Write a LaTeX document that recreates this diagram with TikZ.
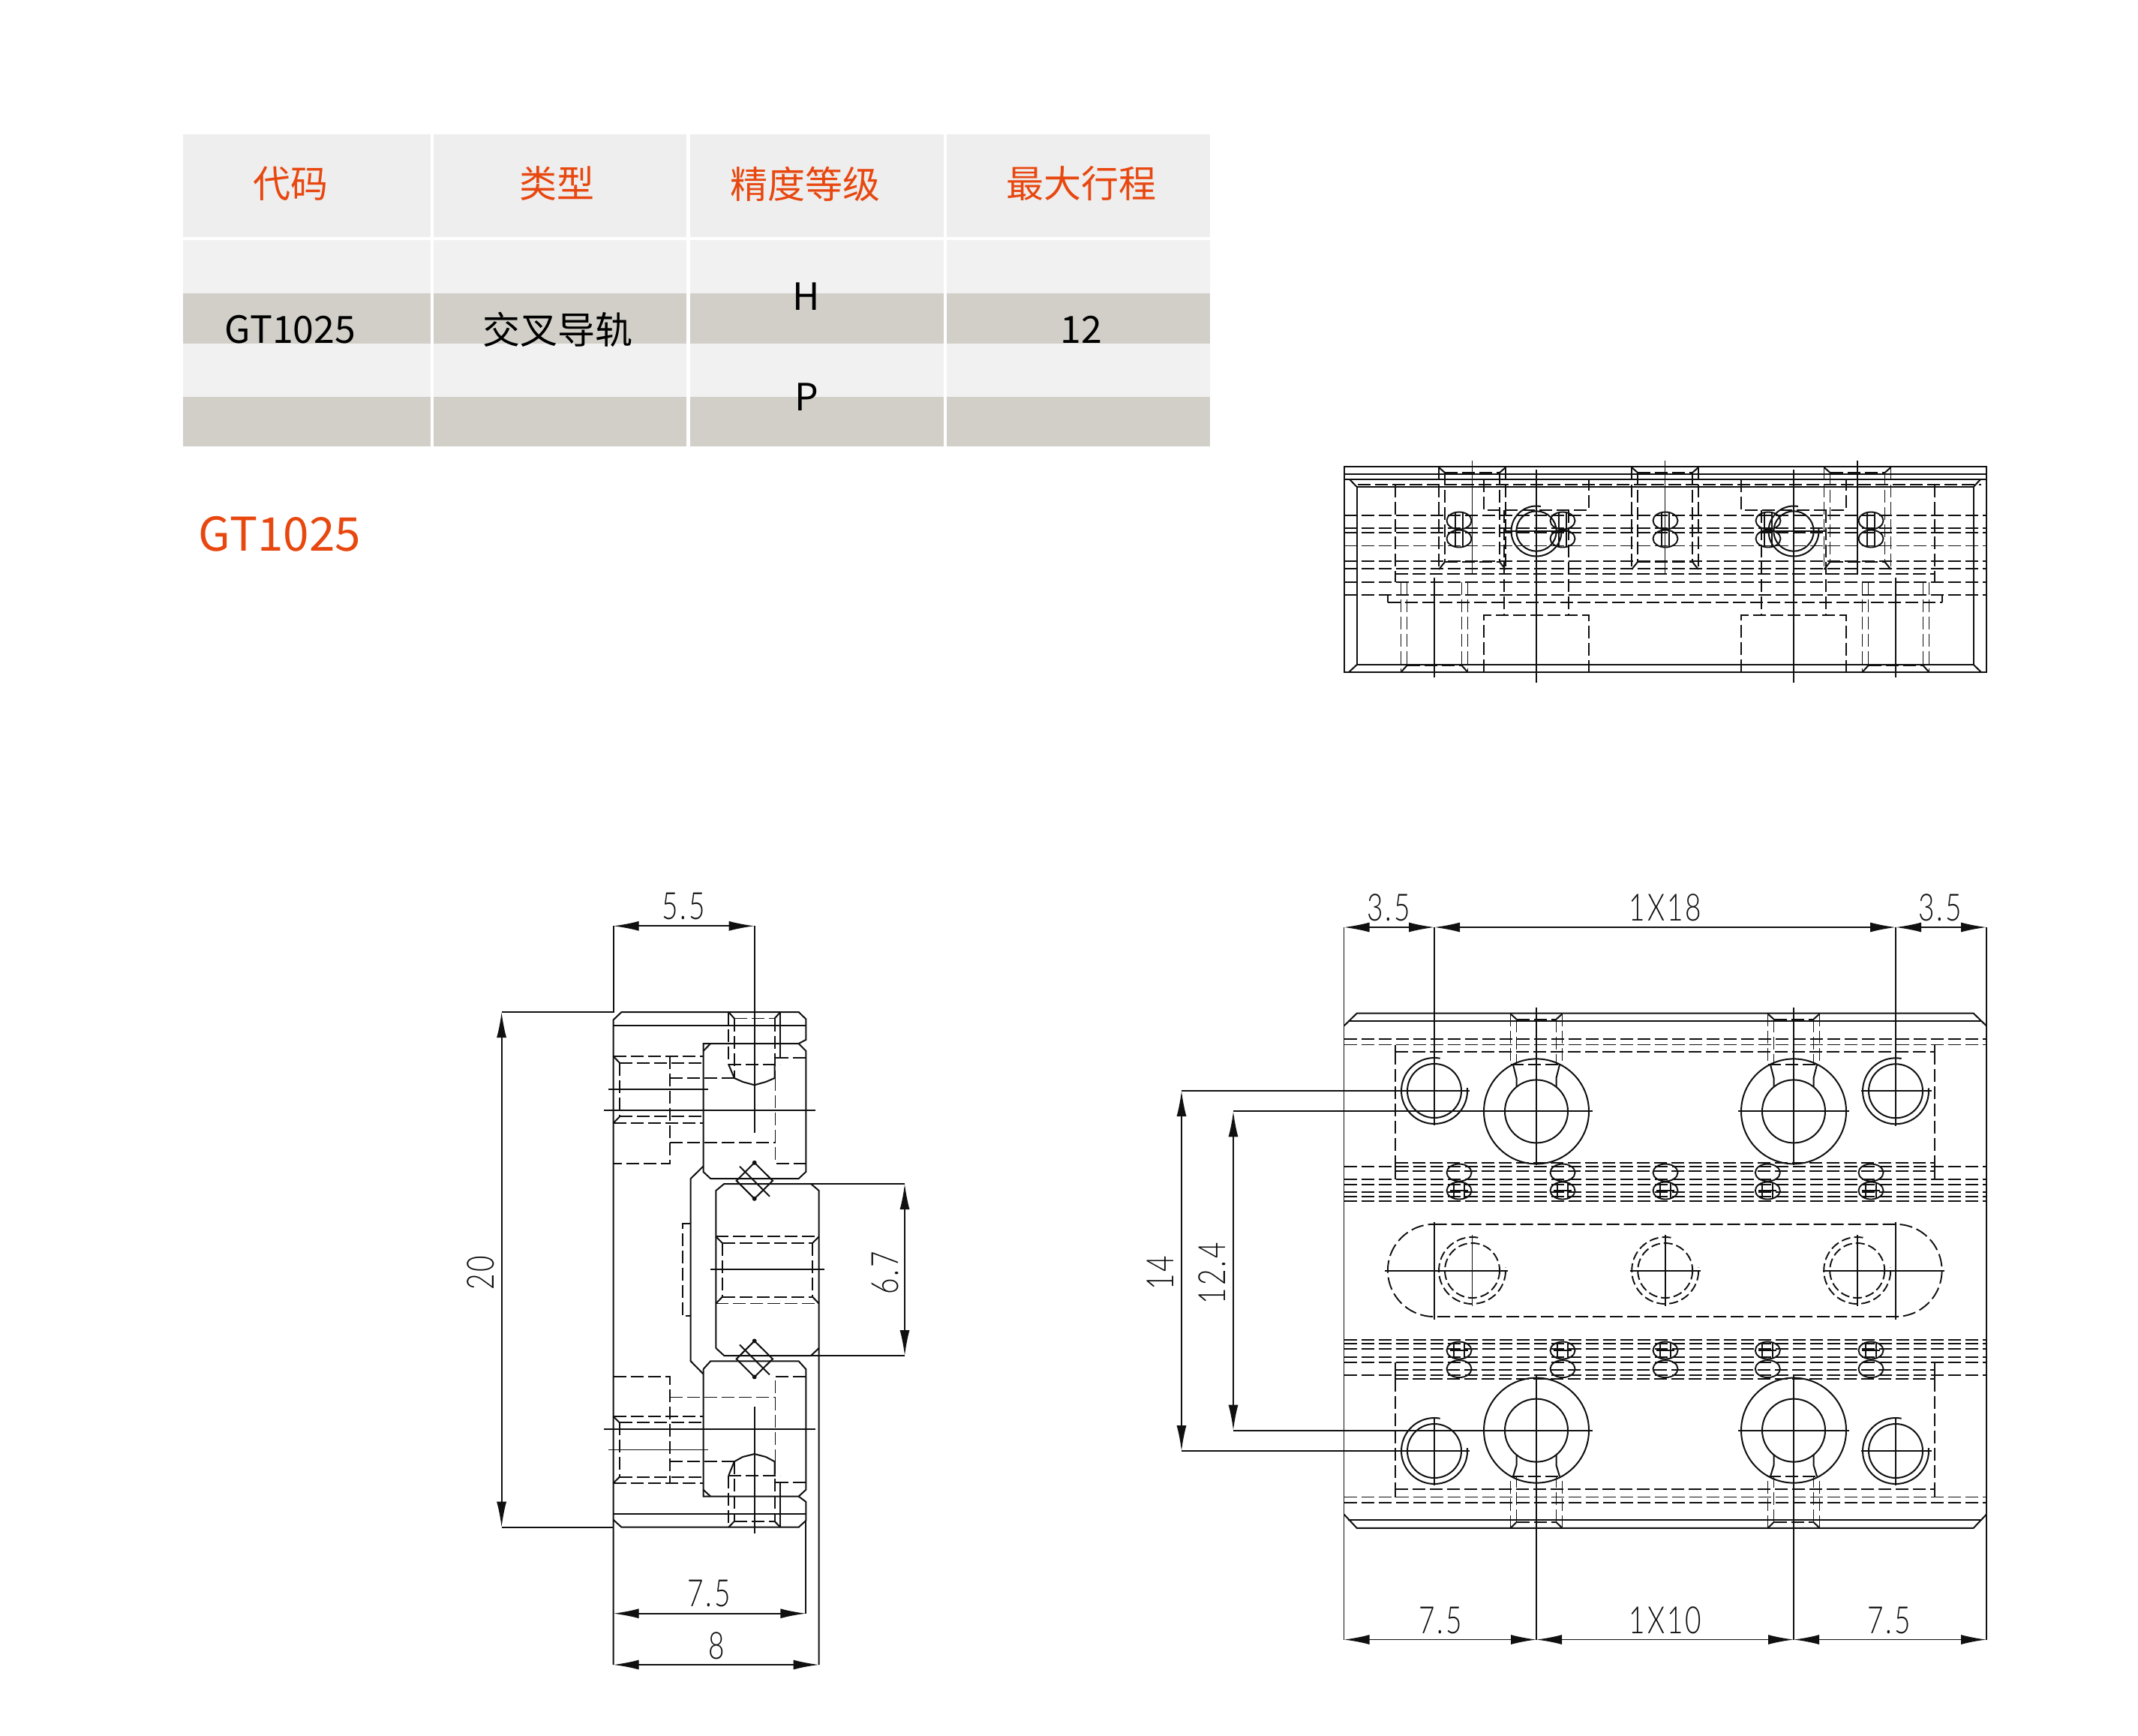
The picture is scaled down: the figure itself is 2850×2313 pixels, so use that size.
\documentclass[tikz,border=0pt]{standalone}
\usepackage{fontspec}
\usetikzlibrary{arrows.meta}
\newfontfamily\cjk{Noto Sans CJK SC}
\newfontfamily\cadf[FakeStretch=0.74,LetterSpace=6]{Lato Light}
\definecolor{hdbg}{HTML}{EEEEEE}
\definecolor{ltbg}{HTML}{F1F1F1}
\definecolor{dkbg}{HTML}{D1CFC8}
\definecolor{orng}{HTML}{E8470F}
\definecolor{ink}{HTML}{101010}
\tikzset{
  solidl/.style={draw=ink,line width=2pt},
  thinl/.style={draw=ink,line width=1.9pt},
  dashl/.style={draw=ink,line width=1.9pt,dash pattern=on 17pt off 6pt},
  dimarr/.style={draw=ink,line width=1.9pt,{Latex[length=34pt,width=13pt]}-{Latex[length=34pt,width=13pt]}},
  hd/.style={font=\cjk\fontsize{50}{50}\selectfont,text=orng,inner sep=0pt},
  cell/.style={font=\cjk\fontsize{50}{50}\selectfont,text=black,inner sep=0pt},
  cad/.style={font=\cadf\fontsize{50}{50}\selectfont,text=ink,inner sep=0pt}
}
\newcommand{\threadhole}[4]{%
  \draw[solidl] (#1,#2) circle[radius=#3];
  \draw[solidl] (#1,#2) ++(-80:#4) arc[start angle=-80,end angle=-365,radius=#4];}
\newcommand{\dashhole}[2]{%
  \draw[dashl,dash pattern=on 12pt off 5pt] (#1,#2) circle[radius=36.5];
  \draw[dashl,dash pattern=on 12pt off 5pt] (#1,#2) ++(-80:44.5) arc[start angle=-80,end angle=-365,radius=44.5];}
\newcommand{\rollplain}[2]{\draw[thinl] (#1,#2) ellipse[x radius=16.5,y radius=11.5];}
\newcommand{\rollvert}[2]{%
  \draw[thinl] (#1,#2) ellipse[x radius=16.5,y radius=11.5];
  \draw[thinl] (#1-5,#2-11)--(#1-5,#2+11) (#1+5,#2-11)--(#1+5,#2+11);}
\newcommand{\rollcross}[2]{%
  \draw[thinl] (#1,#2) ellipse[x radius=16.5,y radius=11.5];
  \draw[thinl] (#1-7,#2-11)--(#1-7,#2+11) (#1+7,#2-11)--(#1+7,#2+11) (#1-12,#2)--(#1+12,#2);}
\begin{document}
\begin{tikzpicture}[x=1pt,y=-1pt]
\useasboundingbox (0,0) rectangle (2850,2313);
\fill[white] (0,0) rectangle (2850,2313);
%% ---------- table
\foreach \a/\b in {244/573.5,577.5/915,920/1258,1262/1613}{
  \fill[hdbg] (\a,178.5) rectangle (\b,315.6);
  \fill[ltbg] (\a,320) rectangle (\b,391);
  \fill[dkbg] (\a,391) rectangle (\b,458);
  \fill[ltbg] (\a,458) rectangle (\b,528.5);
  \fill[dkbg] (\a,528.5) rectangle (\b,595);
}
\node[hd] (h1) at (387,245) {代码};
\node[hd] (h2) at (742,245) {类型};
\node[hd] (h3) at (1073,245) {精度等级};
\node[hd] (h4) at (1441,245) {最大行程};
\node[cell] (c1) at (387,439) {GT1025};
\node[cell] (c2) at (743,439) {交叉导轨};
\node[cell] (c3) at (1075,395) {H};
\node[cell] (c4) at (1075,529) {P};
\node[cell] (c5) at (1441,439) {12};
\node[font=\cjk\fontsize{62}{62}\selectfont,text=orng,inner sep=0pt] (title) at (373,712) {GT1025};
%% ---------- top view
\draw[solidl] (1791.5,622) rectangle (2648,896);
\draw[solidl] (1791.5,632)--(2648,632) (1791.5,639)--(2648,639);
\draw[solidl] (1808.7,649)--(2630.7,649) (1808.7,649)--(1808.7,886)--(2630.7,886)--(2630.7,649);
\draw[solidl] (1799,639)--(1808.7,649) (2640,639)--(2630.7,649) (1808.7,886)--(1798,896) (2630.7,886)--(2641,896);
\foreach \y in {687,704,710,727.5,748,758,776,793}{\draw[dashl] (1791.5,\y)--(2648,\y);}
\draw[dashl] (1810,646)--(2641,646);
\draw[dashl] (1860,765)--(2579,765);
\draw[dashl] (1850,803)--(2589,803);
\draw[dashl] (1860,646)--(1860,776);
\draw[dashl] (2579,646)--(2579,776);
\draw[dashl] (1850,793)--(1850,803) (2589,793)--(2589,803);
% upper counterbores
\foreach \c in {1962.5,2219.5,2476}{
  \draw[solidl] (\c-44.5,623)--(\c-36.5,630) (\c+44.5,623)--(\c+36.5,630);
  \draw[dashl] (\c-36.5,630)--(\c+36.5,630);
  \draw[dashl] (\c-44.5,623)--(\c-44.5,759) (\c+44.5,623)--(\c+44.5,759);
  \draw[dashl] (\c-36.5,630)--(\c-36.5,749) (\c+36.5,630)--(\c+36.5,749);
  \draw[dashl] (\c-36.5,749)--(\c+36.5,749);
  \draw[solidl] (\c-44.5,759)--(\c-36.5,749) (\c+44.5,759)--(\c+36.5,749);
}
% lower counterbores
\foreach \c in {1912,2527}{
  \draw[dashl] (\c-44.5,776)--(\c-44.5,896) (\c+44.5,776)--(\c+44.5,896);
  \draw[dashl] (\c-36.5,776)--(\c-36.5,887) (\c+36.5,776)--(\c+36.5,887);
  \draw[dashl] (\c-36.5,887)--(\c+36.5,887);
  \draw[solidl] (\c-44.5,896)--(\c-36.5,887) (\c+44.5,896)--(\c+36.5,887);
}
% big counterbores
\foreach \c in {2048,2391}{
  \draw[dashl] (\c-70,639)--(\c-70,680)--(\c+70,680)--(\c+70,639);
  \draw[dashl] (\c-70,896)--(\c-70,820)--(\c+70,820)--(\c+70,896);
  \draw[dashl] (\c-43,680)--(\c-43,820) (\c+43,680)--(\c+43,820);
  \draw[thinl] (\c,626)--(\c,910);
  \threadhole{\c}{708}{26.7}{33.5}
  \draw[thinl] (\c-42,708)--(\c+42,708);
}
% rollers
\foreach \c in {1945,2083,2220,2357,2494}{
  \rollvert{\c}{694}
  \rollvert{\c}{718}
}
% centre lines
\foreach \c in {1962.5,2219.5,2476}{\draw[thinl] (\c,614)--(\c,766);}
\foreach \c in {1912,2527}{\draw[thinl] (\c,770)--(\c,903);}
%% ---------- side view
\draw[solidl] (817.6,2219)--(817.6,1359.4)--(828.5,1349)--(1064.6,1349)--(1074.3,1358.3)--(1074.3,1386)--(1064.6,1391)--(937.5,1391)--(937.5,1562)--(947.2,1571)--(1064.6,1571)--(1074.3,1562)--(1074.3,1400.8)--(1064.6,1391);
\draw[solidl] (817.6,1366.7)--(1074.3,1366.7);
\draw[solidl] (937.5,1401)--(947.2,1391);
\draw[solidl] (937.5,1554.6)--(920.7,1571)--(920.7,1814.3)--(937.5,1831.4);
\draw[solidl] (954.4,1797)--(954.4,1587)--(965.3,1578)--(1081,1578)--(1091.6,1587)--(1091.6,2219);
\draw[solidl] (954.4,1797)--(965.3,1807)--(1081,1807)--(1091.6,1797);
\draw[solidl] (937.5,1825)--(947.2,1814.3)--(1064.6,1814.3)--(1074.3,1825)--(1074.3,1985.7)--(1064.6,1994.6)--(937.5,1994.6)--(937.5,1825);
\draw[solidl] (937.5,1985.7)--(947.2,1994.6);
\draw[solidl] (1064.6,1994.6)--(1074.3,2001.8)--(1074.3,2026.8)--(1064.6,2035.7)--(828.5,2035.7)--(817.6,2025.7);
\draw[solidl] (817.6,2017.9)--(1074.3,2017.9);
\draw[solidl] (1074.3,2026.8)--(1074.3,2150.7);
% rollers of the side view
\foreach \y in {1573.8,1811.4}{
  \draw[solidl] (1005.7,\y-24)--(1030,\y)--(1005.7,\y+24)--(981.7,\y)--cycle;
  \draw[thinl] (986,\y-19)--(1026,\y+21);
  \fill[ink] (1005.7,\y-24) circle[radius=3] (1005.7,\y+24) circle[radius=3];
}
% upper block hidden lines
\draw[dashl] (971.2,1349)--(971.2,1418.8);
\draw[solidl] (1040.2,1349)--(1040.2,1410)--(1033.5,1410);
\draw[solidl] (971.2,1349)--(978.8,1357.5) (1040.2,1349)--(1032.6,1357.5);
\draw[dashl] (978.8,1357.5)--(1032.6,1357.5);
\draw[dashl] (978.8,1357.5)--(978.8,1437) (1032.6,1357.5)--(1032.6,1437);
\draw[dashl] (971.2,1418.8)--(1040.2,1418.8);
\draw[solidl] (971.2,1418.8)--(978.8,1437)--(990,1442)--(1005.7,1446.3)--(1021,1442)--(1032.6,1437)--(1032.6,1420);
\draw[dashl] (1033.5,1410)--(1074.3,1410);
\draw[dashl] (1033.5,1437)--(1033.5,1550.8)--(1074.3,1550.8);
\draw[dashl] (817.6,1408)--(937.5,1408);
\draw[dashl] (826,1416.8)--(937.5,1416.8);
\draw[dashl] (826,1416.8)--(826,1488.4);
\draw[dashl] (826,1488.4)--(937.5,1488.4);
\draw[dashl] (817.6,1497)--(937.5,1497);
\draw[solidl] (817.6,1408)--(826,1416.8) (817.6,1497)--(826,1488.4);
\draw[dashl] (893,1408)--(893,1550.8)--(817.6,1550.8);
\draw[dashl] (893,1436.7)--(978.8,1436.7);
\draw[dashl] (893,1523)--(1033.5,1523);
\draw[thinl] (811.3,1452)--(943.9,1452);
\draw[thinl] (805,1480)--(1087.4,1480);
% rail hidden lines
\draw[dashl] (954.4,1648.4)--(1091.6,1648.4);
\draw[dashl] (962.8,1656.8)--(1083.2,1656.8);
\draw[dashl] (962.8,1728.7)--(1083.2,1728.7);
\draw[dashl] (954.4,1737.5)--(1091.6,1737.5);
\draw[dashl] (962.8,1656.8)--(962.8,1728.7) (1083.2,1656.8)--(1083.2,1728.7);
\draw[solidl] (954.4,1648.4)--(962.8,1656.8) (1091.6,1648.4)--(1083.2,1656.8) (954.4,1737.5)--(962.8,1728.7) (1091.6,1737.5)--(1083.2,1728.7);
\draw[thinl] (947,1692.4)--(1099,1692.4);
\draw[dashl] (920.7,1631)--(910.2,1631)--(910.2,1754.3)--(920.7,1754.3);
% lower block hidden lines
\draw[dashl] (817.6,1835)--(893,1835)--(893,1976.8);
\draw[dashl] (817.6,1888.2)--(937.5,1888.2);
\draw[dashl] (826,1896.4)--(937.5,1896.4);
\draw[dashl] (826,1896.4)--(826,1968.6);
\draw[dashl] (826,1968.6)--(937.5,1968.6);
\draw[dashl] (817.6,1976.8)--(937.5,1976.8);
\draw[solidl] (817.6,1888.2)--(826,1896.4) (817.6,1976.8)--(826,1968.6);
\draw[dashl] (893,1862.5)--(1033.5,1862.5);
\draw[dashl] (893,1948.2)--(978.8,1948.2);
\draw[dashl] (1074.3,1835)--(1033.5,1835)--(1033.5,1948);
\draw[dashl] (1033.5,1975.7)--(1074.3,1975.7);
\draw[solidl] (1033.5,1975.7)--(1040.2,1975.7)--(1040.2,2035.7);
\draw[dashl] (971.2,1966.8)--(1040.2,1966.8);
\draw[dashl] (971.2,1966.8)--(971.2,2035.7);
\draw[dashl] (978.8,1948.2)--(978.8,2027.9) (1032.6,1948.2)--(1032.6,2027.9);
\draw[dashl] (978.8,2027.9)--(1032.6,2027.9);
\draw[solidl] (971.2,2035.7)--(978.8,2027.9) (1040.2,2035.7)--(1032.6,2027.9);
\draw[solidl] (971.2,1966.8)--(978.8,1948.2)--(990,1942)--(1005.7,1938)--(1021,1942)--(1032.6,1948.2)--(1032.6,1966);
\draw[thinl] (805,1905.4)--(1087.4,1905.4);
\draw[thinl] (811.3,1932.5)--(943.9,1932.5);
\draw[thinl] (1005.7,1875)--(1005.7,2043.6);
% side view dimensions
\draw[thinl] (1005.7,1234.3)--(1005.7,1510);
\draw[thinl] (817.6,1234.3)--(817.6,1349)--(668.6,1349);
\draw[thinl] (668.6,2035.7)--(817.6,2035.7);
\draw[thinl] (1081,1578)--(1206,1578) (1027,1807)--(1206,1807);
\draw[dimarr] (817.6,1234.3)--(1005.7,1234.3);
\draw[dimarr] (668.6,1349)--(668.6,2035.7);
\draw[dimarr] (1206,1578)--(1206,1807);
\draw[dimarr] (817.6,2150.7)--(1074.3,2150.7);
\draw[dimarr] (817.6,2219)--(1091.6,2219);
\node[cad] (d55) at (911,1208) {5.5};
\node[cad,rotate=90] (d20) at (641,1697) {20};
\node[cad,rotate=90] (d67) at (1180,1697) {6.7};
\node[cad] (d75a) at (945,2124) {7.5};
\node[cad] (d8) at (955,2194) {8};
%% ---------- front view
\draw[thinl] (1791.5,1236)--(1791.5,2185.5) (2648,1236)--(2648,2185.5);
\draw[solidl] (1791.5,1367.5)--(1808.7,1350.7)--(2630.7,1350.7)--(2648,1367.5);
\draw[solidl] (1797,1361)--(2642,1361);
\draw[solidl] (1791.5,2018.5)--(1808.7,2036.8)--(2630.7,2036.8)--(2648,2018.5);
\draw[solidl] (1797,2026.4)--(2642,2026.4);
\foreach \y in {1385.4,1392.5,1555,1571.8,1579,1589,1595.4,1601.4,1786,1791,1798,1809,1816,1832.6,1995.5,2003}{\draw[dashl] (1791.5,\y)--(2648,\y);}
\foreach \y in {1402,1549.6,1561.4,1825.7,1837.7,1985}{\draw[dashl] (1860,\y)--(2579,\y);}
\foreach \c in {1860,2579}{
  \draw[dashl] (\c,1402)--(\c,1549.6);
  \draw[dashl] (\c,1837.7)--(\c,1985);
  \draw[thinl] (\c,1392.5)--(\c,1402) (\c,1549.6)--(\c,1572) (\c,1816)--(\c,1838) (\c,1985)--(\c,1995.5);
}
% screw stubs
\foreach \c in {2048,2391}{
  \draw[solidl] (\c-34.5,1351.4)--(\c-26.5,1358.6) (\c+34.5,1351.4)--(\c+26.5,1358.6);
  \draw[dashl] (\c-26.5,1358.6)--(\c+26.5,1358.6);
  \draw[dashl] (\c-34.5,1351.4)--(\c-34.5,1419) (\c+34.5,1351.4)--(\c+34.5,1419);
  \draw[dashl] (\c-26.5,1358.6)--(\c-26.5,1419) (\c+26.5,1358.6)--(\c+26.5,1419);
  \draw[dashl] (\c-34.5,1419)--(\c+34.5,1419);
  \draw[solidl] (\c-31,1419)--(\c-26.5,1437)--(\c-26.5,1449) (\c+31,1419)--(\c+26.5,1437)--(\c+26.5,1449);
  \draw[solidl] (\c-34.5,2036.8)--(\c-26.5,2029) (\c+34.5,2036.8)--(\c+26.5,2029);
  \draw[dashl] (\c-26.5,2029)--(\c+26.5,2029);
  \draw[dashl] (\c-34.5,2036.8)--(\c-34.5,1968) (\c+34.5,2036.8)--(\c+34.5,1968);
  \draw[dashl] (\c-26.5,2029)--(\c-26.5,1968) (\c+26.5,2029)--(\c+26.5,1968);
  \draw[dashl] (\c-34.5,1968)--(\c+34.5,1968);
  \draw[solidl] (\c-31,1968)--(\c-26.5,1953)--(\c-26.5,1939) (\c+31,1968)--(\c+26.5,1953)--(\c+26.5,1939);
  \foreach \y in {1481.4,1906.6}{
    \draw[solidl] (\c,\y) circle[radius=70] (\c,\y) circle[radius=42];
  }
  \draw[thinl] (\c,1342.5)--(\c,1553);
}
\draw[thinl] (2048,1832.6)--(2048,2185.5) (2391,1832.6)--(2391,2185.5);
\draw[thinl] (1644,1481.4)--(2122.7,1481.4) (2316.7,1481.4)--(2464.8,1481.4);
\draw[thinl] (1644,1906.6)--(2122.7,1906.6) (2316.7,1906.6)--(2464.8,1906.6);
% thread holes
\threadhole{1912}{1454}{36}{44}
\threadhole{2527}{1454.3}{36}{44}
\threadhole{1912}{1934}{36}{44}
\threadhole{2527}{1934}{36}{44}
\draw[thinl] (1575,1454)--(1958.5,1454) (2481,1454.3)--(2574.5,1454.3);
\draw[thinl] (1575,1934)--(1958.5,1934) (2481,1934)--(2574.5,1934);
\draw[thinl] (1912,1236)--(1912,1500) (2527,1236)--(2527,1501);
\draw[thinl] (1912,1888.7)--(1912,1979.6) (2527,1888.7)--(2527,1979.6);
% rollers
\foreach \c in {1945,2083,2220,2356.3,2494}{
  \rollplain{\c}{1563}
  \rollcross{\c}{1587}
  \rollcross{\c}{1800}
  \rollplain{\c}{1824.6}
}
% central slot
\draw[dashl] (1911.5,1631.8)--(2527,1631.8) arc[start angle=-90,end angle=90,radius=61.6]--(1911.5,1755.0) arc[start angle=90,end angle=270,radius=61.6];
\dashhole{1962.5}{1693.5}
\dashhole{2219.7}{1693.5}
\dashhole{2475.7}{1693.5}
\draw[thinl] (1846,1693.6)--(2009.6,1693.6) (2172.7,1693.6)--(2266.8,1693.6) (2430,1693.6)--(2592,1693.6);
\draw[thinl] (1912,1629)--(1912,1758.5) (2527,1629)--(2527,1758.5);
\foreach \c in {1962.5,2219.7,2475.7}{\draw[thinl] (\c,1646)--(\c,1741);}
% front view dimensions
\draw[dimarr] (1791.5,1236)--(1912,1236);
\draw[dimarr] (1912,1236)--(2527,1236);
\draw[dimarr] (2527,1236)--(2648,1236);
\draw[dimarr] (1791.5,2185.5)--(2048,2185.5);
\draw[dimarr] (2048,2185.5)--(2391,2185.5);
\draw[dimarr] (2391,2185.5)--(2648,2185.5);
\draw[dimarr] (1575,1454)--(1575,1934);
\draw[dimarr] (1644,1481.4)--(1644,1906.6);
\node[cad] (a35l) at (1851,1210) {3.5};
\node[cad] (a118) at (2220,1210) {1X18};
\node[cad] (a35r) at (2586,1210) {3.5};
\node[cad] (b75l) at (1920,2160) {7.5};
\node[cad] (b110) at (2220,2160) {1X10};
\node[cad] (b75r) at (2518,2160) {7.5};
\node[cad,rotate=90] (v14) at (1547,1697) {14};
\node[cad,rotate=90] (v124) at (1616,1697) {12.4};
\end{tikzpicture}
\end{document}
